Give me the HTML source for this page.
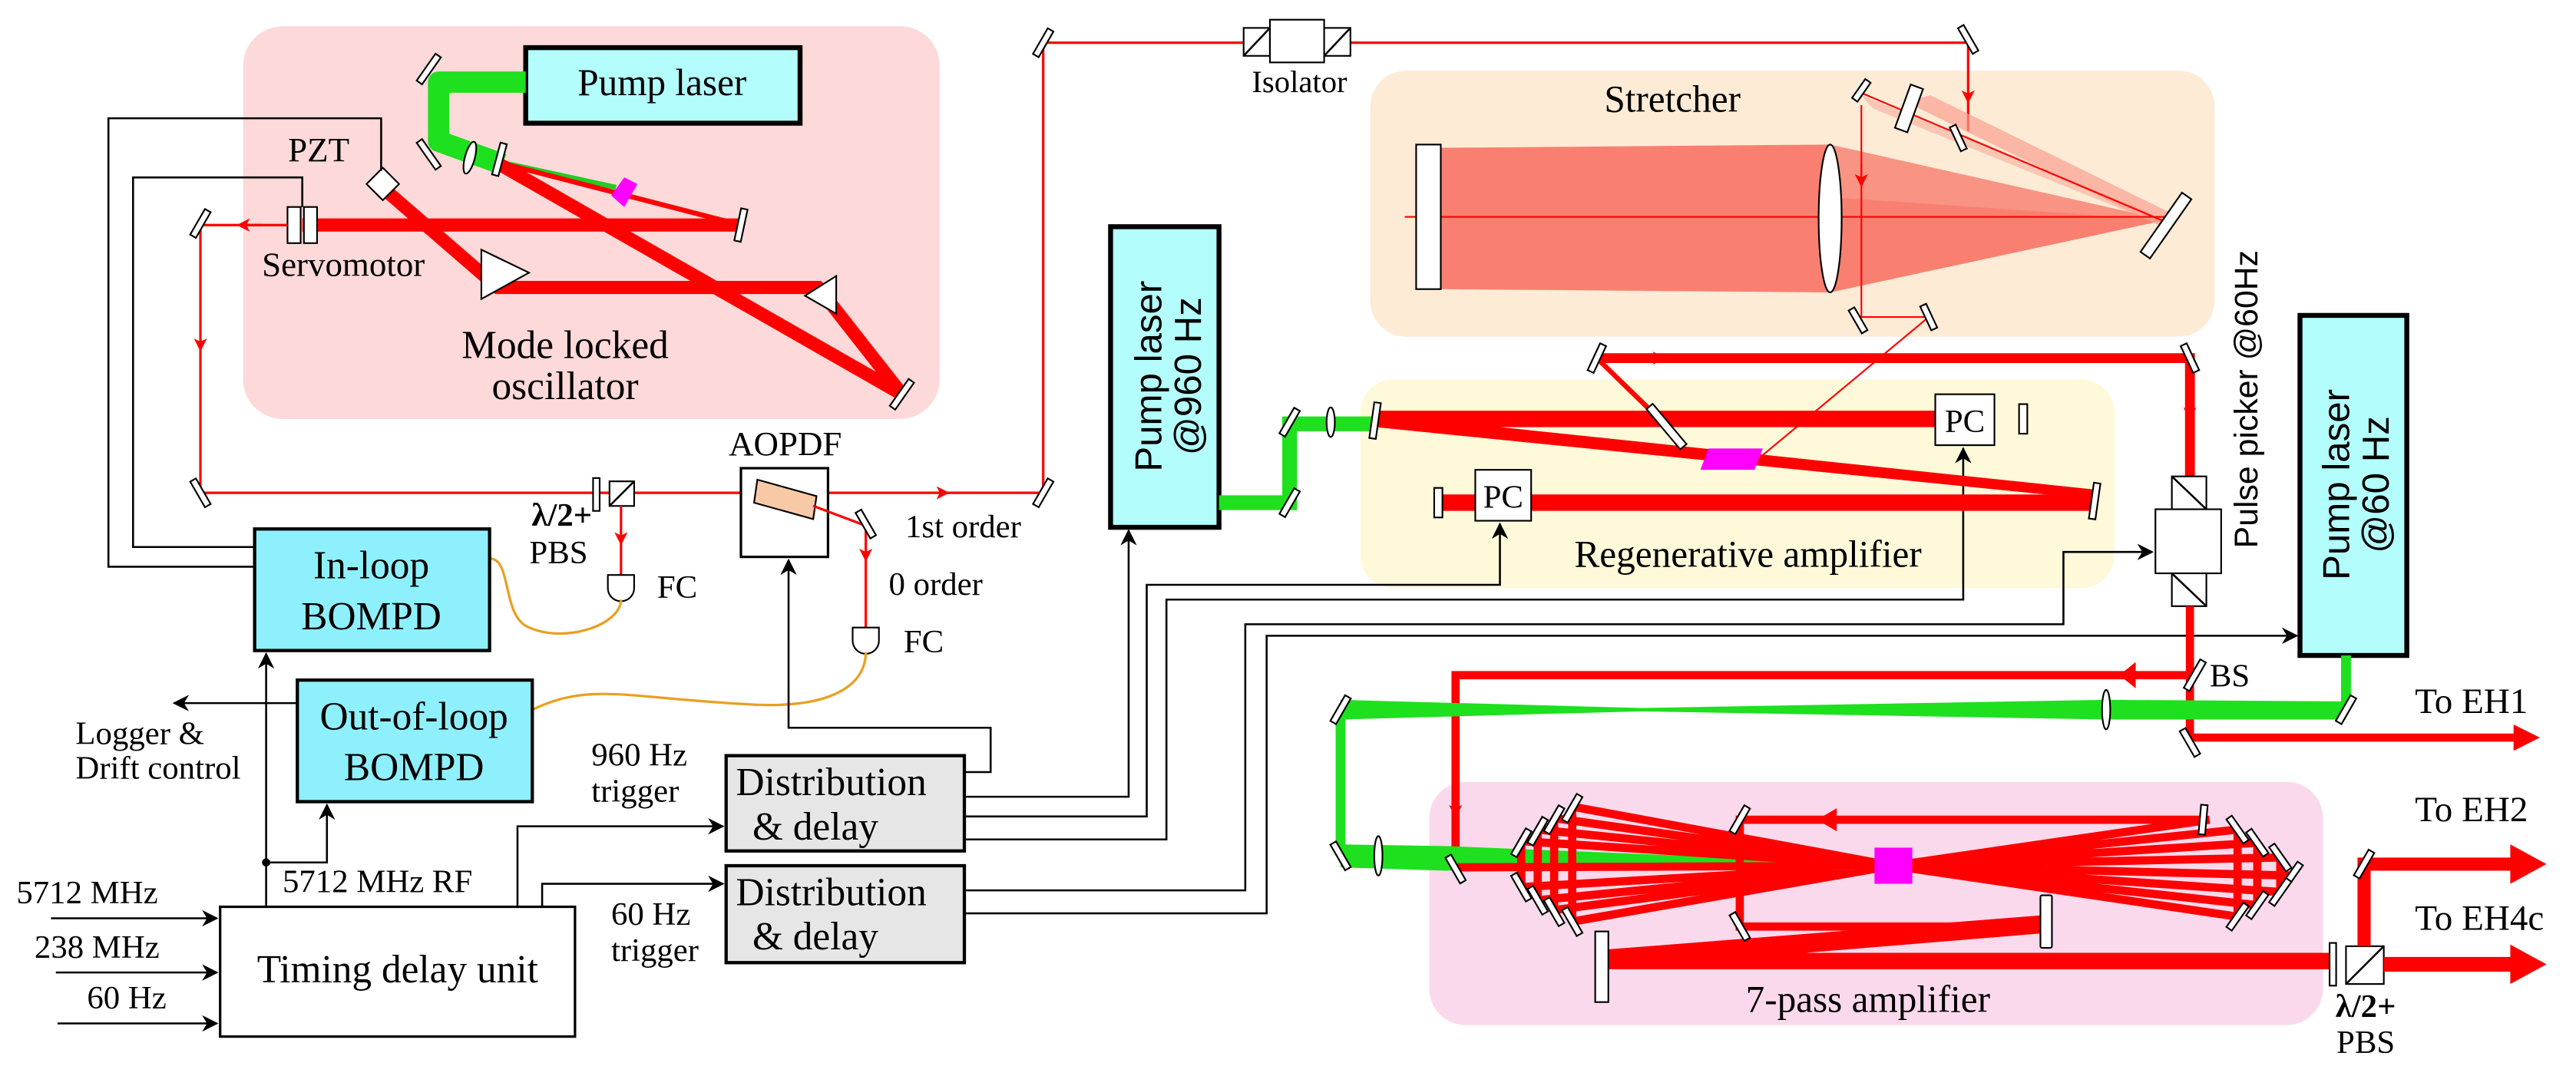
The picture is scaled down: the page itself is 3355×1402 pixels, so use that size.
<!DOCTYPE html>
<html><head><meta charset="utf-8"><style>
html,body{margin:0;padding:0;background:#fff;width:3355px;height:1402px;overflow:hidden}
svg{display:block}
svg text{font-family:"Liberation Serif","Times New Roman",serif !important;fill:#000}
svg text.s{font-family:"Liberation Sans","DejaVu Sans",sans-serif !important}
.m{fill:#fff;stroke:#000;stroke-width:1}
.w{fill:none;stroke:#000;stroke-width:1.2}
.r{stroke:#f00;fill:none}
</style></head><body>
<svg width="3355" height="1402" viewBox="0 0 1568 655" preserveAspectRatio="none" xmlns="http://www.w3.org/2000/svg" font-family="Liberation Serif, serif" style="font-family:'Liberation Serif',serif">
<defs>
<marker id="ab" markerWidth="10" markerHeight="10" refX="9" refY="5" orient="auto" markerUnits="userSpaceOnUse"><path d="M0,0 L10,5 L0,10 L3,5z" fill="#000"/></marker>
<marker id="ar" markerWidth="8" markerHeight="8" refX="4" refY="4" orient="auto" markerUnits="userSpaceOnUse"><path d="M0,0 L8,4 L0,8 L2,4z" fill="#f00"/></marker>
</defs>
<rect x="148" y="16" width="424" height="239" rx="24" fill="#fdd9d9"/>
<rect x="834" y="43" width="514" height="162" rx="22" fill="#fdebd6"/>
<rect x="828" y="231" width="459" height="127" rx="20" fill="#fdf9d9"/>
<rect x="870" y="476" width="544" height="148" rx="22" fill="#fbd9ec"/>

<rect x="320" y="29" width="167" height="46" fill="#b3fdfd" stroke="#000" stroke-width="3"/>
<text x="403" y="58" font-size="23" text-anchor="middle">Pump laser</text>
<path d="M320,50 H267 V86 L306,100" stroke="#1ee01e" stroke-width="13" fill="none" stroke-linejoin="round"/>
<path d="M306,99 L375,114" stroke="#2c2" stroke-width="3"/>
<path d="M304,99 L451,137" stroke="#f00" stroke-width="3"/>
<path d="M304,100 L549,240" stroke="#f00" stroke-width="8"/>
<path d="M184,137 H451" stroke="#f00" stroke-width="8"/>
<path d="M236,117 L303,175 L498,175 L549,240" stroke="#f00" stroke-width="8" fill="none"/>
<polygon points="293,152 322,166 293,182" class="m"/>
<polygon points="509,168 490,180 509,191" class="m"/>
<polygon points="372,119 380,108 388,112 380,126" fill="#f0f"/>
<rect x="226" y="105" width="14" height="14" class="m" transform="rotate(45 233 112)"/>
<rect x="175" y="126" width="8" height="22" class="m"/><rect x="185" y="126" width="8" height="22" class="m"/>
<rect x="259" y="32" width="4" height="20" class="m" transform="rotate(35 261 42)"/>
<rect x="259" y="84" width="4" height="20" class="m" transform="rotate(-35 261 94)"/>
<ellipse cx="286" cy="96" rx="3" ry="10" class="m" transform="rotate(15 286 96)"/>
<rect x="302" y="87" width="4" height="20" class="m" transform="rotate(15 304 97)"/>
<rect x="449" y="127" width="4" height="20" class="m" transform="rotate(12 451 137)"/>
<rect x="547" y="230" width="4" height="20" class="m" transform="rotate(35 549 240)" fill="#444"/>
<text x="194" y="98" font-size="21" text-anchor="middle">PZT</text>
<text x="209" y="168" font-size="21" text-anchor="middle">Servomotor</text>
<text x="344" y="218" font-size="24" text-anchor="middle">Mode locked</text>
<text x="344" y="243" font-size="24" text-anchor="middle">oscillator</text>
<path d="M175,137 H122 V300 H635 V26 H1198 V80" class="r" stroke-width="1.5"/>
<path d="M122,200 v10" class="r" marker-end="url(#ar)"/>
<path d="M160,137 h-12" stroke="#f00" stroke-width="1.5" marker-end="url(#ar)"/>
<path d="M560,300 h14" class="r" marker-end="url(#ar)"/>
<path d="M1198,45 v14" class="r" marker-end="url(#ar)"/>
<rect x="120" y="127" width="4" height="18" class="m" transform="rotate(30 122 136)"/>
<rect x="120" y="291" width="4" height="18" class="m" transform="rotate(-30 122 300)"/>
<rect x="633" y="291" width="4" height="18" class="m" transform="rotate(30 635 300)"/>
<rect x="633" y="17" width="4" height="18" class="m" transform="rotate(30 635 26)"/>
<rect x="1196" y="15" width="4" height="18" class="m" transform="rotate(-30 1198 24)"/>
<rect x="757" y="17" width="16" height="17" class="m"/><rect x="773" y="12" width="33" height="26" class="m"/><rect x="806" y="17" width="16" height="17" class="m"/>
<path d="M757,34 L773,17 M806,34 L822,17" class="w"/>
<text x="791" y="56" font-size="19" text-anchor="middle">Isolator</text>
<rect x="361" y="291" width="4" height="20" class="m"/>
<rect x="371" y="293" width="15" height="15" class="m"/><path d="M371,308 L386,293" class="w"/>
<path d="M378,308 V350" class="r" stroke-width="1.5"/><path d="M378,320 v8" class="r" marker-end="url(#ar)"/>
<path d="M370,350 H386 V358 A8,8 0 0 1 370,358Z" class="m"/>
<text x="342" y="320" font-size="20" text-anchor="middle" font-weight="bold">λ/2+</text>
<text x="340" y="343" font-size="20" text-anchor="middle">PBS</text>
<text x="400" y="364" font-size="20">FC</text>
<rect x="451" y="285" width="53" height="54" fill="#fff" stroke="#000" stroke-width="1.5"/>
<polygon points="461,292 497,302 495,316 459,306" fill="#f8c9a6" stroke="#000"/>
<path d="M495,308 L527,320 V382" class="r" stroke-width="1.5"/><path d="M527,330 v8" class="r" marker-end="url(#ar)"/>
<rect x="525" y="310" width="4" height="18" class="m" transform="rotate(-30 527 319)"/>
<path d="M519,382 H535 V390 A8,8 0 0 1 519,390Z" class="m"/>
<text x="478" y="277" font-size="21" text-anchor="middle">AOPDF</text>
<text x="551" y="327" font-size="20">1st order</text>
<text x="541" y="362" font-size="20">0 order</text>
<text x="550" y="397" font-size="20">FC</text>
<path d="M298,340 C312,340 305,375 322,382 C345,392 378,380 378,365" stroke="#e8a020" stroke-width="1.5" fill="none"/>
<path d="M324,432 C360,415 380,425 460,429 C510,431 527,415 527,397" stroke="#e8a020" stroke-width="1.5" fill="none"/>
<rect x="155" y="322" width="143" height="74" fill="#8ef0fd" stroke="#000" stroke-width="2"/>
<text x="226" y="352" font-size="24" text-anchor="middle">In-loop</text>
<text x="226" y="383" font-size="24" text-anchor="middle">BOMPD</text>
<rect x="181" y="414" width="143" height="74" fill="#8ef0fd" stroke="#000" stroke-width="2"/>
<text x="252" y="444" font-size="24" text-anchor="middle">Out-of-loop</text>
<text x="252" y="475" font-size="24" text-anchor="middle">BOMPD</text>
<rect x="134" y="552" width="216" height="79" fill="#fff" stroke="#000" stroke-width="1.5"/>
<text x="242" y="598" font-size="24" text-anchor="middle">Timing delay unit</text>
<rect x="442" y="460" width="145" height="58" fill="#e6e6e6" stroke="#000" stroke-width="2"/>
<text x="448" y="484" font-size="24">Distribution</text><text x="458" y="511" font-size="24">&amp; delay</text>
<rect x="442" y="527" width="145" height="59" fill="#e6e6e6" stroke="#000" stroke-width="2"/>
<text x="448" y="551" font-size="24">Distribution</text><text x="458" y="578" font-size="24">&amp; delay</text>
<path d="M155,345 H66 V72 H232 V104" class="w"/>
<path d="M155,333 H81 V108 H184 V126" class="w"/>
<path d="M162,552 V398" class="w" marker-end="url(#ab)"/>
<circle cx="162" cy="525" r="2.5"/>
<path d="M162,525 H199 V490" class="w" marker-end="url(#ab)"/>
<path d="M181,428 H106" class="w" marker-end="url(#ab)"/>
<text x="46" y="453" font-size="20">Logger &amp;</text>
<text x="46" y="474" font-size="20">Drift control</text>
<text x="172" y="543" font-size="20">5712 MHz RF</text>
<path d="M315,552 V503 H440" class="w" marker-end="url(#ab)"/>
<path d="M330,552 V538 H440" class="w" marker-end="url(#ab)"/>
<text x="360" y="466" font-size="20">960 Hz</text><text x="360" y="488" font-size="20">trigger</text>
<text x="372" y="563" font-size="20">60 Hz</text><text x="372" y="585" font-size="20">trigger</text>
<path d="M31,559 H132" class="w" marker-end="url(#ab)"/>
<path d="M34,592 H132" class="w" marker-end="url(#ab)"/>
<path d="M35,623 H132" class="w" marker-end="url(#ab)"/>
<text x="10" y="550" font-size="20">5712 MHz</text>
<text x="21" y="583" font-size="20">238 MHz</text>
<text x="53" y="614" font-size="20">60 Hz</text>
<path d="M587,470 H603 V443 H480 V341" class="w" marker-end="url(#ab)"/>
<path d="M587,485 H687 V323" class="w" marker-end="url(#ab)"/>
<path d="M587,497 H698 V356 H913 V319" class="w" marker-end="url(#ab)"/>
<path d="M587,511 H710 V365 H1195 V273" class="w" marker-end="url(#ab)"/>
<path d="M587,542 H758 V380 H1256 V336 H1310" class="w" marker-end="url(#ab)"/>
<path d="M587,556 H771 V387 H1398" class="w" marker-end="url(#ab)"/>
<rect x="676" y="138" width="66" height="183" fill="#b3fdfd" stroke="#000" stroke-width="3"/>
<text class="s" transform="translate(707,229) rotate(-90)" font-size="23" text-anchor="middle">Pump laser</text>
<text class="s" transform="translate(731,229) rotate(-90)" font-size="23" text-anchor="middle">@960 Hz</text>
<path d="M742,306 H785 V258 H837" stroke="#1ee01e" stroke-width="9" fill="none"/>
<rect x="783" y="297" width="4" height="18" class="m" transform="rotate(30 785 306)"/>
<rect x="783" y="248" width="4" height="18" class="m" transform="rotate(30 785 257)"/>
<ellipse cx="810" cy="257" rx="2.5" ry="9" class="m"/>
<text x="1018" y="68" font-size="23" text-anchor="middle">Stretcher</text>
<polygon points="877,90 1114,88 1318,134 1114,178 877,176" fill="#f98070"/>
<polygon points="1114,88 1318,134 1114,120" fill="#f9a090" opacity="0.6"/>
<polygon points="1160,62 1175,58 1322,130 1316,138" fill="#f9a090" opacity="0.7"/>
<polygon points="1133,58 1140,66 1318,138 1310,130" fill="#f9a090" opacity="0.5"/>
<path d="M855,132 H1320 M1134,57 L1318,135" class="r"/>
<rect x="862" y="88" width="15" height="88" class="m"/>
<ellipse cx="1114" cy="133" rx="7" ry="45" class="m"/>
<rect x="1315" y="115" width="7" height="44" class="m" transform="rotate(35 1318 137)"/>
<rect x="1158" y="52" width="8" height="28" class="m" transform="rotate(20 1162 66)"/>
<rect x="1131" y="48" width="4" height="14" class="m" transform="rotate(35 1133 55)"/>
<rect x="1190" y="76" width="4" height="16" class="m" transform="rotate(-25 1192 84)"/>
<path d="M1133,64 V193 H1174 L1073,277" class="r"/>
<path d="M1133,100 v10" class="r" marker-end="url(#ar)"/>
<rect x="1129" y="187" width="4" height="16" class="m" transform="rotate(-30 1131 195)"/>
<rect x="1172" y="185" width="4" height="16" class="m" transform="rotate(-25 1174 193)"/>
<path d="M972,218 H1333 V290" stroke="#f00" stroke-width="6" fill="none"/>
<path d="M972,218 L1010,255" stroke="#f00" stroke-width="3"/>
<path d="M1000,218 h10" stroke="#f00" stroke-width="2" marker-end="url(#ar)"/>
<path d="M1333,240 v12" stroke="#f00" stroke-width="2" marker-end="url(#ar)"/>
<path d="M837,255 H1178" stroke="#f00" stroke-width="10"/>
<path d="M877,306 H1275" stroke="#f00" stroke-width="10"/>
<polygon points="837,252 1275,298 1275,304 837,260" fill="#f00"/>
<polygon points="1040,273 1073,273 1068,286 1035,286" fill="#f0f"/>
<rect x="970" y="209" width="4" height="18" class="m" transform="rotate(25 972 218)"/>
<rect x="1331" y="209" width="4" height="18" class="m" transform="rotate(-25 1333 218)"/>
<rect x="1012" y="244" width="5" height="32" class="m" transform="rotate(-40 1014 260)"/>
<rect x="835" y="245" width="4" height="22" class="m" transform="rotate(8 837 256)"/>
<rect x="1229" y="246" width="5" height="18" class="m"/>
<rect x="873" y="297" width="5" height="18" class="m"/>
<rect x="1273" y="294" width="4" height="22" class="m" transform="rotate(8 1275 305)"/>
<rect x="1178" y="240" width="36" height="31" class="m" stroke-width="1.5"/><text x="1196" y="263" font-size="20" text-anchor="middle">PC</text>
<rect x="898" y="286" width="34" height="31" class="m" stroke-width="1.5"/><text x="915" y="309" font-size="20" text-anchor="middle">PC</text>
<text x="1064" y="345" font-size="23" text-anchor="middle">Regenerative amplifier</text>
<rect x="1322" y="290" width="21" height="20" class="m"/><path d="M1322,290 L1343,310" class="w"/>
<rect x="1312" y="310" width="40" height="39" class="m" stroke-width="1.5"/>
<rect x="1322" y="349" width="21" height="20" class="m"/><path d="M1322,349 L1343,369" class="w"/>
<path d="M1333,369 V411 H886 V520" stroke="#f00" stroke-width="5" fill="none"/>
<path d="M1333,411 V449 H1530" stroke="#f00" stroke-width="5" fill="none"/>
<polygon points="1530,441 1546,449 1530,457" fill="#f00"/>
<polygon points="1300,403 1290,411 1300,419" fill="#f00"/>
<path d="M886,480 v14" stroke="#f00" stroke-width="2" marker-end="url(#ar)"/>
<text class="s" transform="translate(1374,243) rotate(-90)" font-size="20" text-anchor="middle">Pulse picker @60Hz</text>
<rect x="1334" y="401" width="4" height="20" class="m" transform="rotate(30 1336 411)"/>
<rect x="1331" y="443" width="4" height="18" class="m" transform="rotate(-30 1333 452)"/>
<text x="1345" y="418" font-size="20">BS</text>
<rect x="1400" y="192" width="65" height="207" fill="#b3fdfd" stroke="#000" stroke-width="3"/>
<text class="s" transform="translate(1430,295) rotate(-90)" font-size="23" text-anchor="middle">Pump laser</text>
<text class="s" transform="translate(1454,295) rotate(-90)" font-size="23" text-anchor="middle">@60 Hz</text>
<path d="M1428,399 V432" stroke="#1ee01e" stroke-width="6"/>
<polygon points="1428,427 1282,426 999,431 816,426 816,438 999,433 1282,438 1428,438" fill="#1ee01e"/>
<path d="M816,432 V520" stroke="#1ee01e" stroke-width="6"/>
<polygon points="816,514 880,515 1150,526 880,530 816,528" fill="#1ee01e"/>
<rect x="1426" y="423" width="4" height="18" class="m" transform="rotate(30 1428 432)"/>
<rect x="814" y="423" width="4" height="18" class="m" transform="rotate(30 816 432)"/>
<rect x="814" y="512" width="4" height="18" class="m" transform="rotate(-30 816 521)"/>
<ellipse cx="1282" cy="432" rx="2.5" ry="12" class="m"/>
<ellipse cx="839" cy="521" rx="2.5" ry="12" class="m"/>
<text x="1470" y="434" font-size="22">To EH1</text>
<g stroke="#f00" stroke-width="5" fill="none">
<path d="M1152,527 L886,528 M1152,527 L957,491 M1152,527 L946,498 M1152,527 L936,505 M1152,527 L926,512 M1152,527 L926,540 M1152,527 L936,548 M1152,527 L946,554 M1152,527 L957,561"/>
<path d="M1152,527 L1345,499 M1152,527 L1362,505 M1152,527 L1374,513 M1152,527 L1388,522 M1152,527 L1395,533 M1152,527 L1388,543 M1152,527 L1374,551 M1152,527 L1362,558"/>
<path d="M926,512 V540 M936,505 V548 M946,498 V554 M957,491 V561"/>
<path d="M1362,505 V558 M1374,513 V551 M1388,522 V543"/>
<path d="M1341,499 H1059 V564 H1245"/>
</g>
<polygon points="1118,492 1106,499 1118,506" fill="#f00"/>
<polygon points="1245,557 1245,568 978,590 978,578" fill="#f00"/>
<path d="M978,585 H1420" stroke="#f00" stroke-width="10"/>
<rect x="1141" y="516" width="23" height="22" fill="#f0f"/>
<g class="m">
<rect x="884" y="520" width="4" height="18" transform="rotate(-30 886 529)"/>
<rect x="955" y="483" width="4" height="18" transform="rotate(30 957 492)"/>
<rect x="944" y="490" width="4" height="18" transform="rotate(30 946 499)"/>
<rect x="934" y="497" width="4" height="18" transform="rotate(30 936 506)"/>
<rect x="924" y="504" width="4" height="18" transform="rotate(30 926 513)"/>
<rect x="924" y="531" width="4" height="18" transform="rotate(-30 926 540)"/>
<rect x="934" y="539" width="4" height="18" transform="rotate(-30 936 548)"/>
<rect x="944" y="546" width="4" height="18" transform="rotate(-30 946 555)"/>
<rect x="955" y="552" width="4" height="18" transform="rotate(-30 957 561)"/>
<rect x="1339" y="490" width="4" height="18" transform="rotate(5 1341 499)"/>
<rect x="1360" y="496" width="4" height="18" transform="rotate(-35 1362 505)"/>
<rect x="1372" y="504" width="4" height="18" transform="rotate(-35 1374 513)"/>
<rect x="1386" y="513" width="4" height="18" transform="rotate(-35 1388 522)"/>
<rect x="1393" y="524" width="4" height="18" transform="rotate(35 1395 533)"/>
<rect x="1386" y="534" width="4" height="18" transform="rotate(35 1388 543)"/>
<rect x="1372" y="542" width="4" height="18" transform="rotate(35 1374 551)"/>
<rect x="1360" y="549" width="4" height="18" transform="rotate(35 1362 558)"/>
<rect x="1057" y="490" width="4" height="18" transform="rotate(30 1059 499)"/>
<rect x="1057" y="555" width="4" height="18" transform="rotate(-30 1059 564)"/>
<rect x="1242" y="545" width="7" height="32" rx="1"/>
<rect x="971" y="567" width="8" height="43"/>
<rect x="1418" y="574" width="4" height="26"/>
</g>
<rect x="1428" y="576" width="23" height="23" class="m" stroke-width="1.5"/><path d="M1428,599 L1451,576" class="w"/>
<path d="M1451,587 H1530" stroke="#f00" stroke-width="9"/>
<polygon points="1528,575 1550,587 1528,599" fill="#f00"/>
<path d="M1439,576 V526 H1530" stroke="#f00" stroke-width="8" fill="none"/>
<polygon points="1528,514 1550,526 1528,538" fill="#f00"/>
<rect x="1437" y="517" width="4" height="18" class="m" transform="rotate(30 1439 526)"/>
<text x="1470" y="500" font-size="22">To EH2</text>
<text x="1470" y="566" font-size="22">To EH4c</text>
<text x="1440" y="619" font-size="20" text-anchor="middle" font-weight="bold">λ/2+</text>
<text x="1440" y="641" font-size="20" text-anchor="middle">PBS</text>
<text x="1137" y="616" font-size="23" text-anchor="middle">7-pass amplifier</text>
</svg>
</body></html>
